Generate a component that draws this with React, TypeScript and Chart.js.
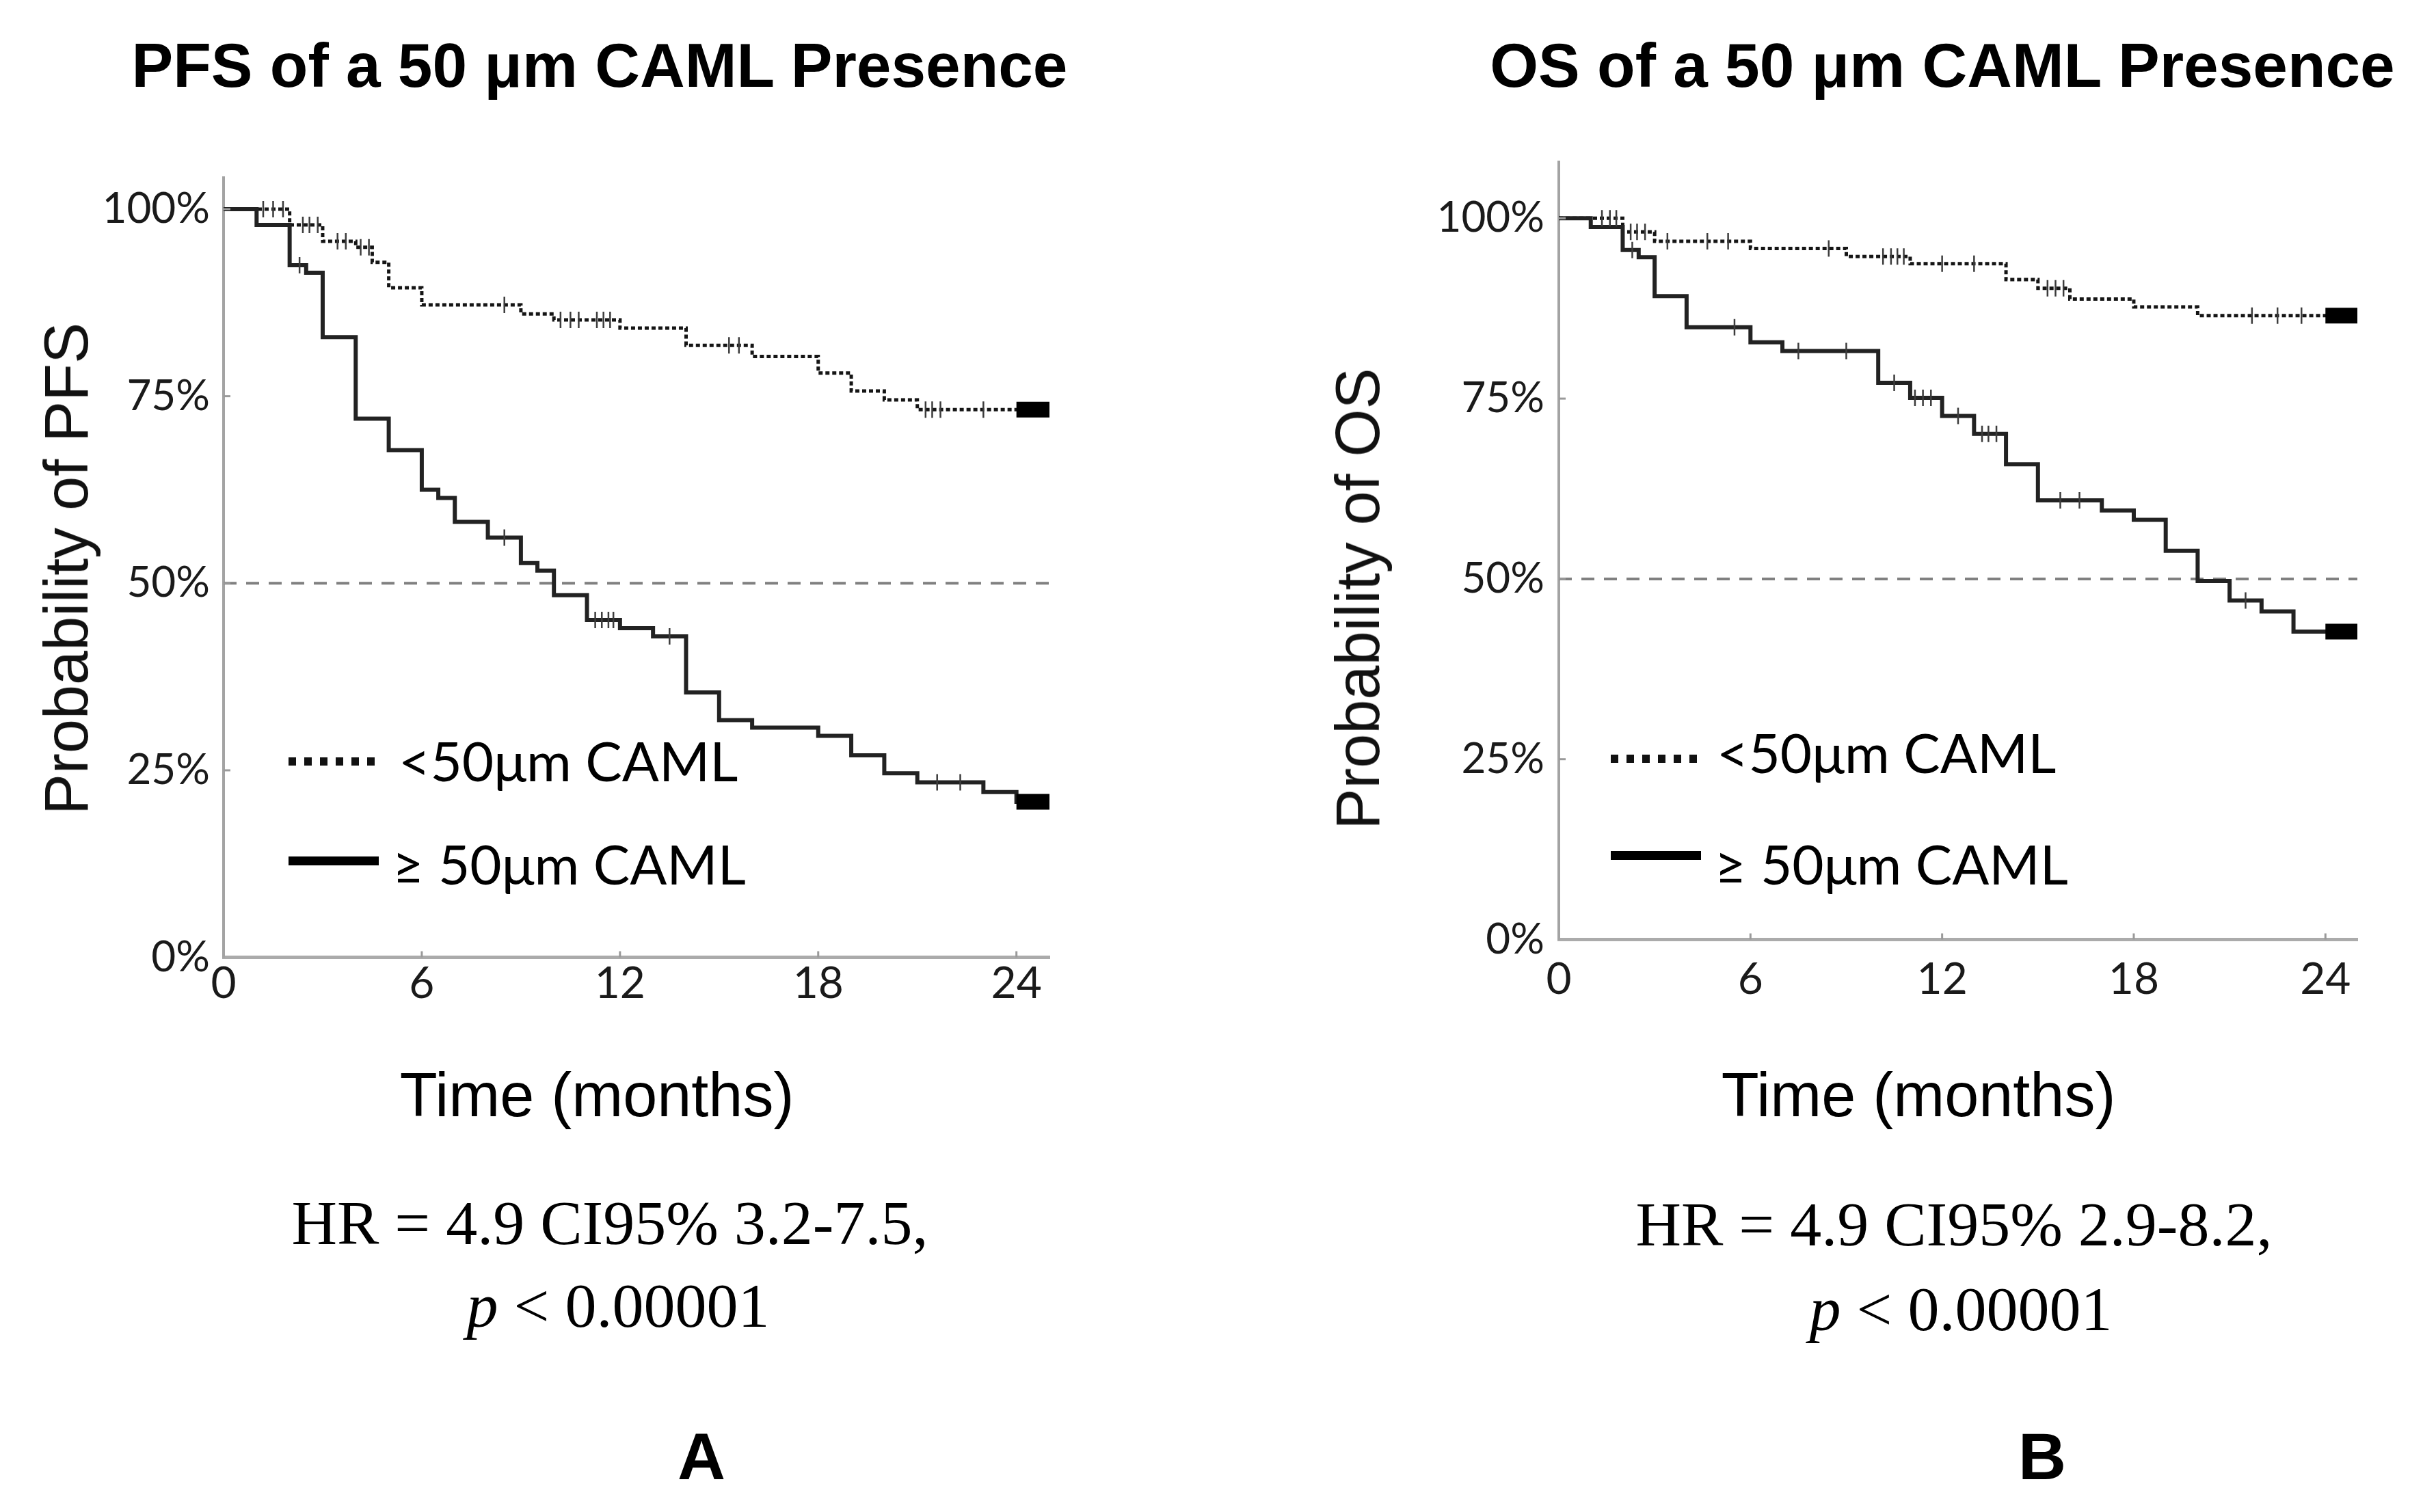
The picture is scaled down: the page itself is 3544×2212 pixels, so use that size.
import React, { useEffect, useRef } from "react";
import { Chart, registerables } from "chart.js";
Chart.register(...registerables);

// ---------------- data ----------------
const xTickValues = [0, 6, 12, 18, 24];
const yTickValues = [0, 0.25, 0.5, 0.75, 1.0];
const yTickLabels = ["0%", "25%", "50%", "75%", "100%"];
const timeSpan = [0, 25];
const medianLevel = [0.5];
const legendLabels = ["<50μm CAML", "≥ 50μm CAML"];

// PFS, <50 µm CAML (dotted)
const pfsLowTimes = [0, 2, 3, 4, 4.5, 5, 6, 9, 10, 12, 14, 16, 18, 19, 20, 21, 25];
const pfsLowSurv = [1.0, 0.979, 0.957, 0.949, 0.929, 0.895, 0.872, 0.86, 0.852, 0.841, 0.818, 0.803, 0.781, 0.757, 0.745, 0.732, 0.732];
const pfsLowCensor = [1.2, 1.5, 1.8, 2.4, 2.6, 2.85, 3.45, 3.7, 4.15, 4.4, 8.5, 10.2, 10.5, 10.75, 11.3, 11.5, 11.7, 15.3, 15.6, 21.25, 21.45, 21.7, 23.0];
const pfsLowCluster = [24.0, 25.0];

// PFS, ≥50 µm CAML (solid)
const pfsHighTimes = [0, 1, 2, 2.5, 3, 4, 5, 6, 6.5, 7, 8, 9, 9.5, 10, 11, 12, 13, 14, 15, 16, 18, 19, 20, 21, 23, 24, 25];
const pfsHighSurv = [1.0, 0.979, 0.925, 0.915, 0.829, 0.72, 0.678, 0.625, 0.614, 0.582, 0.561, 0.527, 0.517, 0.484, 0.451, 0.44, 0.429, 0.354, 0.317, 0.307, 0.296, 0.27, 0.246, 0.234, 0.221, 0.208, 0.208];
const pfsHighCensor = [2.3, 8.5, 11.25, 11.45, 11.65, 11.8, 13.5, 21.6, 22.3];
const pfsHighCluster = [24.0, 25.0];

// OS, <50 µm CAML (dotted)
const osLowTimes = [0, 2, 3, 6, 9, 11, 14, 15, 16, 18, 20, 25];
const osLowSurv = [1.0, 0.981, 0.968, 0.958, 0.947, 0.937, 0.915, 0.903, 0.888, 0.877, 0.865, 0.865];
const osLowCensor = [1.35, 1.6, 1.8, 2.25, 2.45, 2.7, 3.4, 4.65, 5.3, 8.45, 10.15, 10.4, 10.6, 10.8, 12.0, 13.0, 15.3, 15.55, 15.8, 21.7, 22.5, 23.25];
const osLowCluster = [24.0, 25.0];

// OS, ≥50 µm CAML (solid)
const osHighTimes = [0, 1, 2, 2.5, 3, 4, 6, 7, 10, 11, 12, 13, 14, 15, 17, 18, 19, 20, 21, 22, 23, 25];
const osHighSurv = [1.0, 0.988, 0.956, 0.946, 0.892, 0.849, 0.828, 0.816, 0.772, 0.751, 0.726, 0.701, 0.659, 0.609, 0.595, 0.582, 0.539, 0.497, 0.47, 0.455, 0.427, 0.427];
const osHighCensor = [2.3, 5.5, 7.5, 9.0, 10.5, 11.15, 11.4, 11.65, 12.5, 13.25, 13.45, 13.7, 15.7, 16.3, 21.5];
const osHighCluster = [24.0, 25.0];

// ---------------- helpers ----------------
function stepValue(times: number[], surv: number[], t: number) {
  let v = surv[0];
  for (let i = 0; i < times.length; i++) if (times[i] <= t) v = surv[i];
  return v;
}
const toXY = (ts: number[], ss: number[]) => ts.map((t, i) => ({ x: t, y: ss[i] }));

const inwardTicks = {
  id: "inwardTicks",
  afterDraw(chart: any) {
    const { ctx, scales, chartArea } = chart;
    ctx.save();
    ctx.strokeStyle = "#9a9a9a";
    ctx.lineWidth = 3;
    xTickValues.forEach((v) => {
      if (v === 0) return;
      const px = scales.x.getPixelForValue(v);
      ctx.beginPath();
      ctx.moveTo(px, chartArea.bottom);
      ctx.lineTo(px, chartArea.bottom - 9);
      ctx.stroke();
    });
    yTickValues.forEach((v) => {
      if (v === 0) return;
      const py = scales.y.getPixelForValue(v);
      ctx.beginPath();
      ctx.moveTo(chartArea.left, py);
      ctx.lineTo(chartArea.left + 10, py);
      ctx.stroke();
    });
    ctx.restore();
  },
};

type PanelProps = {
  left: number; top: number; width: number; height: number;
  padTop: number; padRight: number; yAxisW: number; xAxisH: number;
  yMax: number; xPad: number; yPad: number;
  lowT: number[]; lowS: number[]; lowC: number[]; lowK: number[];
  highT: number[]; highS: number[]; highC: number[]; highK: number[];
};

function KMPanel(p: PanelProps) {
  const ref = useRef<HTMLCanvasElement | null>(null);
  useEffect(() => {
    let chart: Chart | null = null;
    let cancelled = false;
    const make = () => {
      if (cancelled || !ref.current) return;
      const censorDs = (ts: number[], ss: number[], cs: number[]) => ({
        data: cs.map((t) => ({ x: t, y: stepValue(ts, ss, t) })),
        showLine: false,
        pointStyle: "line",
        rotation: 90,
        pointRadius: 12,
        pointBorderWidth: 2.5,
        pointBorderColor: "#3c3c3c",
        pointBackgroundColor: "#3c3c3c",
      });
      const clusterDs = (ts: number[], ss: number[], ks: number[]) => {
        const lvl = stepValue(ts, ss, ks[ks.length - 1]);
        return {
          data: ks.map((t) => ({ x: t, y: lvl })),
          borderColor: "#000000",
          borderWidth: 23,
          borderCapStyle: "butt",
          pointRadius: 0,
          fill: false,
        };
      };
      chart = new Chart(ref.current, {
        type: "line",
        data: {
          datasets: [
            clusterDs(p.lowT, p.lowS, p.lowK),
            clusterDs(p.highT, p.highS, p.highK),
            censorDs(p.lowT, p.lowS, p.lowC),
            censorDs(p.highT, p.highS, p.highC),
            {
              label: legendLabels[1],
              data: toXY(p.highT, p.highS),
              stepped: "before",
              borderColor: "#222222",
              borderWidth: 6,
              pointRadius: 0,
              fill: false,
            },
            {
              label: legendLabels[0],
              data: toXY(p.lowT, p.lowS),
              stepped: "before",
              borderColor: "#151515",
              borderWidth: 5,
              borderDash: [6, 4],
              pointRadius: 0,
              fill: false,
            },
            {
              data: timeSpan.map((t) => ({ x: t, y: medianLevel[0] })),
              borderColor: "#808080",
              borderWidth: 4,
              borderDash: [19, 14],
              pointRadius: 0,
              fill: false,
            },
          ] as any,
        },
        options: {
          animation: false,
          responsive: false,
          devicePixelRatio: 1,
          events: [],
          layout: { padding: { top: p.padTop, right: p.padRight, left: 0, bottom: 0 } },
          plugins: { legend: { display: false }, tooltip: { enabled: false }, title: { display: false } },
          scales: {
            x: {
              type: "linear",
              min: 0,
              max: 25,
              afterBuildTicks: (s: any) => { s.ticks = xTickValues.map((v) => ({ value: v })); },
              afterFit: (s: any) => { s.height = p.xAxisH; },
              grid: { display: false, drawTicks: false },
              border: { display: true, color: "#ababab", width: 5 },
              ticks: {
                padding: p.xPad,
                autoSkip: false,
                maxRotation: 0,
                color: "#1a1a1a",
                font: { family: "Lato", size: 64 },
                callback: (v: any) => String(v),
              },
            },
            y: {
              type: "linear",
              min: 0,
              max: p.yMax,
              afterBuildTicks: (s: any) => { s.ticks = yTickValues.map((v) => ({ value: v })); },
              afterFit: (s: any) => { s.width = p.yAxisW; },
              grid: { display: false, drawTicks: false },
              border: { display: true, color: "#a3a3a3", width: 4 },
              ticks: {
                padding: p.yPad,
                autoSkip: false,
                color: "#1a1a1a",
                font: { family: "Lato", size: 62 },
                callback: (v: any) => {
                  const i = yTickValues.indexOf(Number(v));
                  return i >= 0 ? yTickLabels[i] : "";
                },
              },
            },
          },
        } as any,
        plugins: [inwardTicks],
      });
    };
    const fontsReady = (document as any).fonts
      ? Promise.all([
          (document as any).fonts.load("64px Lato"),
          (document as any).fonts.load("62px Lato"),
        ]).catch(() => null)
      : Promise.resolve(null);
    fontsReady.then(make);
    return () => {
      cancelled = true;
      if (chart) chart.destroy();
    };
  }, []);
  return (
    <canvas
      ref={ref}
      width={p.width}
      height={p.height}
      style={{ position: "absolute", left: p.left, top: p.top, width: p.width, height: p.height }}
    />
  );
}

const SANS = "'Liberation Sans', Arial, sans-serif";
const SERIF = "'Liberation Serif', 'Times New Roman', serif";
const LATO = "Lato, 'Noto Sans', sans-serif";

function Txt(props: {
  x: number; base: number; size: number; family: string; k: number;
  weight?: number; align?: "center" | "left"; children: React.ReactNode;
}) {
  const { x, base, size, family, k, weight = 400, align = "center", children } = props;
  return (
    <div
      style={{
        position: "absolute",
        left: x,
        top: base - k * size,
        fontSize: size,
        lineHeight: `${size}px`,
        fontFamily: family,
        fontWeight: weight,
        whiteSpace: "nowrap",
        color: "#000",
        transform: align === "center" ? "translateX(-50%)" : undefined,
      }}
    >
      {children}
    </div>
  );
}

function VTxt(props: { cx: number; cy: number; size: number; children: React.ReactNode }) {
  return (
    <div
      style={{
        position: "absolute",
        left: props.cx,
        top: props.cy,
        fontSize: props.size,
        lineHeight: `${props.size}px`,
        fontFamily: SANS,
        whiteSpace: "nowrap",
        color: "#111",
        transform: "translate(-50%, -50%) rotate(-90deg)",
      }}
    >
      {props.children}
    </div>
  );
}

function Legend(props: {
  sx: number; dotY: number; dotW: number; solidY: number; solidW: number;
  t1x: number; t1b: number; t2x: number; t2b: number;
}) {
  const { sx, dotY, dotW, solidY, solidW, t1x, t1b, t2x, t2b } = props;
  return (
    <>
      <div
        style={{
          position: "absolute",
          left: sx,
          top: dotY - 6,
          width: dotW,
          height: 12,
          background: "repeating-linear-gradient(90deg, #111 0px, #111 11px, transparent 11px, transparent 23px)",
        }}
      />
      <div style={{ position: "absolute", left: sx, top: solidY - 7, width: solidW, height: 13, background: "#000" }} />
      <Txt x={t1x} base={t1b} size={80} family={LATO} k={0.887} align="left">{legendLabels[0]}</Txt>
      <Txt x={t2x} base={t2b} size={80} family={LATO} k={0.887} align="left">{legendLabels[1]}</Txt>
    </>
  );
}

export default function App() {
  return (
    <div style={{ position: "absolute", left: 0, top: 0, width: 3544, height: 2212, background: "#fff", overflow: "hidden" }}>
      {/* Titles */}
      <Txt x={877} base={127} size={91} family={SANS} k={0.8465} weight={700}>PFS of a 50 μm CAML Presence</Txt>
      <Txt x={2841} base={127} size={91} family={SANS} k={0.8465} weight={700}>OS of a 50 μm CAML Presence</Txt>

      <KMPanel
        left={0} top={200} width={1772} height={1300}
        padTop={60} padRight={237} yAxisW={327} xAxisH={99.4}
        yMax={1.042} xPad={0} yPad={20}
        lowT={pfsLowTimes} lowS={pfsLowSurv} lowC={pfsLowCensor} lowK={pfsLowCluster}
        highT={pfsHighTimes} highS={pfsHighSurv} highC={pfsHighCensor} highK={pfsHighCluster}
      />
      <KMPanel
        left={1772} top={167} width={1772} height={1333}
        padTop={70} padRight={96} yAxisW={508} xAxisH={125.5}
        yMax={1.078} xPad={20} yPad={21}
        lowT={osLowTimes} lowS={osLowSurv} lowC={osLowCensor} lowK={osLowCluster}
        highT={osHighTimes} highS={osHighSurv} highC={osHighCensor} highK={osHighCluster}
      />

      {/* Axis titles */}
      <VTxt cx={97} cy={832} size={90}>Probability of PFS</VTxt>
      <VTxt cx={1986} cy={876} size={90}>Probability of OS</VTxt>
      <Txt x={873} base={1633} size={90} family={SANS} k={0.8465}>Time (months)</Txt>
      <Txt x={2806} base={1633} size={90} family={SANS} k={0.8465}>Time (months)</Txt>

      {/* Legends */}
      <Legend sx={422} dotY={1114} dotW={126} solidY={1260} solidW={132} t1x={583} t1b={1143} t2x={574} t2b={1294} />
      <Legend sx={2356} dotY={1110} dotW={126} solidY={1252} solidW={132} t1x={2511} t1b={1131} t2x={2508} t2b={1294} />

      {/* Statistics */}
      <Txt x={892} base={1820} size={92} family={SERIF} k={0.8375}>HR = 4.9 CI95% 3.2-7.5,</Txt>
      <Txt x={904} base={1941} size={92} family={SERIF} k={0.8375}><i>p</i> &lt; 0.00001</Txt>
      <Txt x={2858} base={1822} size={92} family={SERIF} k={0.8375}>HR = 4.9 CI95% 2.9-8.2,</Txt>
      <Txt x={2868} base={1946} size={92} family={SERIF} k={0.8375}><i>p</i> &lt; 0.00001</Txt>

      {/* Panel letters */}
      <Txt x={1026} base={2164} size={97} family={SANS} k={0.8465} weight={700}>A</Txt>
      <Txt x={2987} base={2164} size={97} family={SANS} k={0.8465} weight={700}>B</Txt>
    </div>
  );
}
